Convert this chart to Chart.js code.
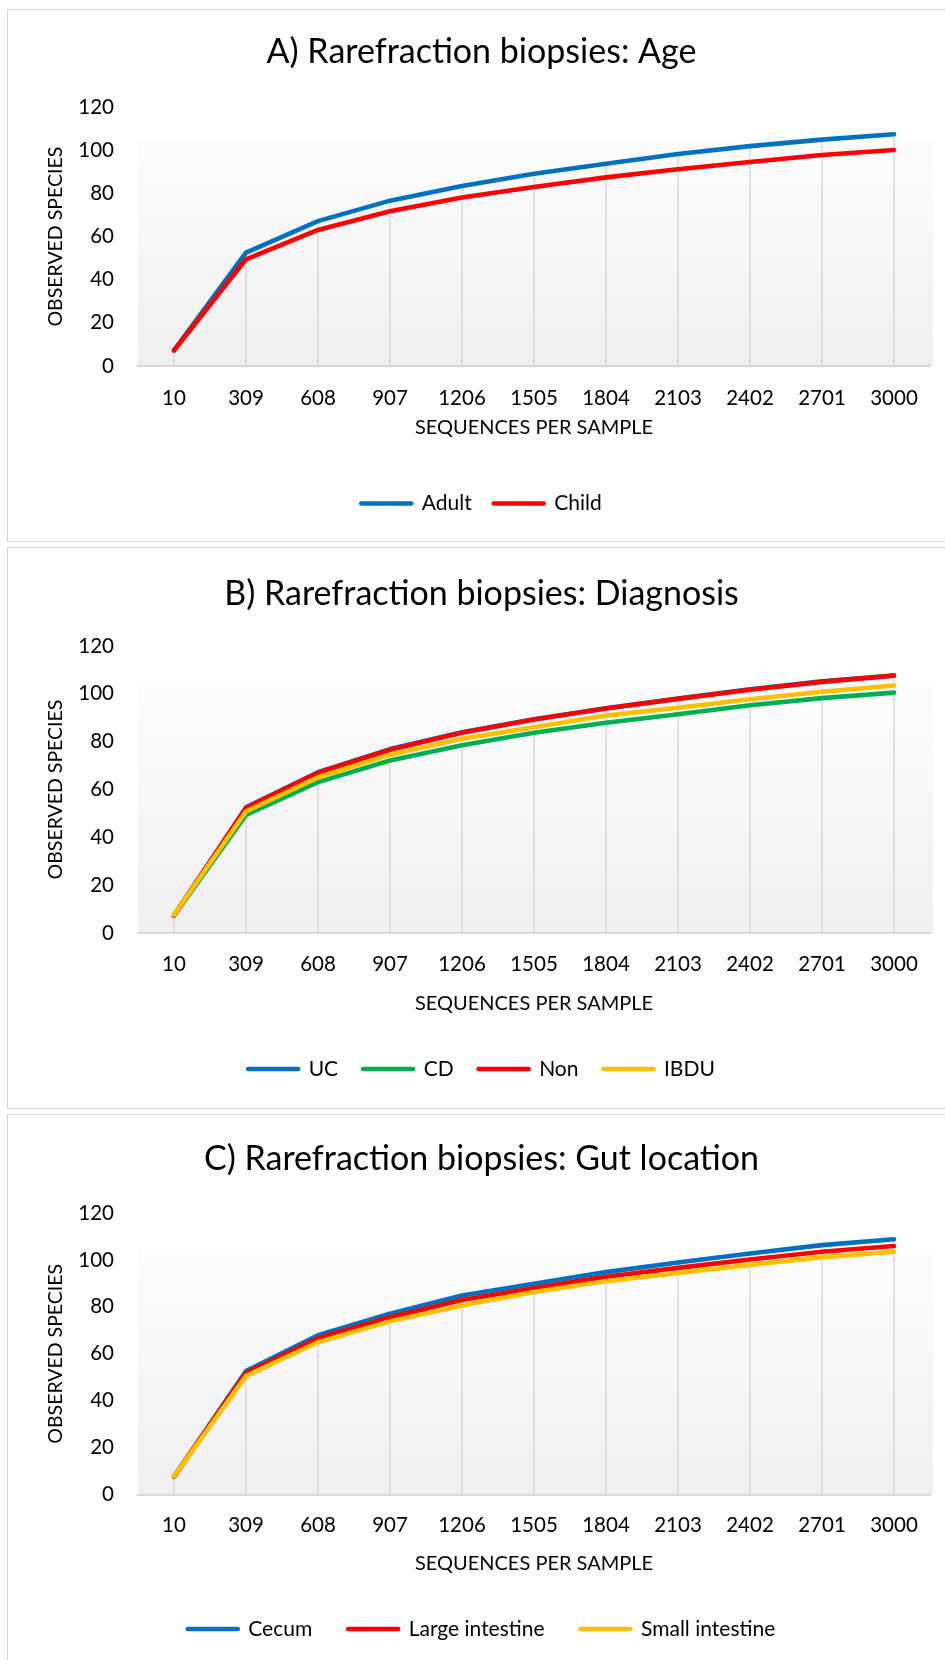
<!DOCTYPE html>
<html>
<head>
<meta charset="utf-8">
<title>Rarefraction biopsies</title>
<script src="https://cdn.jsdelivr.net/npm/chart.js@4.4.1/dist/chart.umd.min.js"></script>
<style>
    body { margin: 0; background: #fff; overflow: hidden; width: 945px; height: 1660px; position: relative; }
    .panel { position: absolute; left: 7px; width: 960px; border: 1px solid #d6d6d6; box-sizing: border-box; }
    canvas { position: absolute; left: 8px; }
</style>
</head>
<body>
<div class="panel" style="top:9px;height:533px"></div>
<div class="panel" style="top:547px;height:562px"></div>
<div class="panel" style="top:1114px;height:600px"></div>
<canvas id="chartA" width="947" height="531" style="top:10px"></canvas>
<canvas id="chartB" width="947" height="560" style="top:548px"></canvas>
<canvas id="chartC" width="947" height="545" style="top:1115px"></canvas>
<script>
//x軸 (sequences per sample)
var sampleDepths = ['10', '309', '608', '907', '1206', '1505', '1804', '2103', '2402', '2701', '3000'];

//y軸
var yMin = 0;
var yMax = 120;
var yStep = 20;

//A) Age
var ageNames = ['Adult', 'Child'];
var ageAdult = [7.2, 52.6, 67.2, 76.7, 83.5, 89.2, 93.8, 98.3, 102.0, 105.0, 107.5];
var ageChild = [7.2, 49.5, 63.1, 71.8, 78.2, 83.0, 87.5, 91.3, 94.6, 97.9, 100.2];

//B) Diagnosis
var diagNames = ['UC', 'CD', 'Non', 'IBDU'];
var diagUC = [7.4, 52.5, 67.2, 76.9, 83.9, 89.4, 94.0, 98.0, 101.9, 105.2, 107.7];
var diagCD = [7.2, 49.4, 63.1, 72.1, 78.5, 83.7, 87.9, 91.5, 95.2, 98.2, 100.5];
var diagNon = [7.3, 52.3, 67.0, 76.6, 83.7, 89.3, 93.9, 97.9, 101.7, 105.0, 107.6];
var diagIBDU = [7.6, 50.8, 65.1, 74.5, 81.2, 86.0, 90.9, 94.2, 97.7, 100.9, 103.5];

//C) Gut location
var gutNames = ['Cecum', 'Large intestine', 'Small intestine'];
var gutCecum = [7.5, 52.6, 67.9, 77.1, 84.8, 89.8, 94.8, 98.9, 102.7, 106.3, 108.8];
var gutLarge = [7.6, 51.8, 66.6, 75.6, 82.9, 88.0, 92.8, 96.6, 100.2, 103.5, 105.9];
var gutSmall = [7.7, 50.5, 64.9, 73.8, 80.6, 86.3, 90.9, 94.4, 97.9, 101.2, 103.5];

var BLUE = '#0070C0';
var RED = '#FF0000';
var GREEN = '#00B050';
var YELLOW = '#FFC000';

Chart.defaults.font.family = 'Lato, "Open Sans", sans-serif';
Chart.defaults.color = '#000';

//繪圖區背景 (漸層)
var plotFill = {
    id: 'plotFill',
    beforeDraw: function(chart) {
        var a = chart.chartArea;
        var c = chart.ctx;
        var top = a.top + (a.bottom - a.top) * 0.128;
        var g = c.createLinearGradient(0, top, 0, a.bottom);
        g.addColorStop(0, '#fdfdfd');
        g.addColorStop(1, '#efefef');
        c.save();
        c.fillStyle = g;
        c.fillRect(a.left, top, a.right - a.left + 3, a.bottom - top);
        c.restore();
    }
};

//垂直線 (drop lines)
var dropLines = {
    id: 'dropLines',
    beforeDatasetsDraw: function(chart) {
        var xs = chart.scales.x;
        var ys = chart.scales.y;
        var c = chart.ctx;
        c.save();
        c.strokeStyle = '#d9d9d9';
        c.lineWidth = 1.5;
        for (var i = 0; i < chart.data.labels.length; i++) {
            var top = 0;
            chart.data.datasets.forEach(function(ds) {
                if (ds.data[i] > top) top = ds.data[i];
            });
            var x = xs.getPixelForValue(i);
            c.beginPath();
            c.moveTo(x, ys.getPixelForValue(top));
            c.lineTo(x, ys.getPixelForValue(0));
            c.stroke();
        }
        c.restore();
    }
};

//繪製圖表
function drawPanel(id, titleText, names, series, colors, box) {
    var ctx = document.getElementById(id).getContext('2d');
    var datasets = [];
    for (var i = 0; i < series.length; i++) {
        datasets.push({
            label: names[i],
            data: series[i],
            borderColor: colors[i],
            backgroundColor: colors[i],
            borderWidth: 4.6,
            borderJoinStyle: 'round',
            borderCapStyle: 'round',
            pointRadius: 0,
            tension: 0,
            order: -i   //後面的線畫在上面
        });
    }

    return new Chart(ctx, {
        type: 'line',
        data: { labels: sampleDepths, datasets: datasets },
        plugins: [plotFill, dropLines],
        options: {
            responsive: false,
            animation: false,
            layout: { padding: { left: 25, right: 25, top: 0, bottom: box.padBottom } },
            plugins: {
                title: {
                    display: true,
                    text: titleText,
                    color: '#000',
                    font: { size: 34, weight: 'normal' },
                    padding: { top: box.titleTop, bottom: box.titleBottom }
                },
                legend: {
                    position: 'bottom',
                    labels: {
                        boxWidth: 50,
                        boxHeight: 0,
                        padding: box.legendGap,
                        color: '#000',
                        font: { size: 21 },
                        sort: function(a, b) { return a.datasetIndex - b.datasetIndex; }
                    }
                },
                tooltip: { enabled: false }
            },
            scales: {
                x: {
                    offset: true,
                    grid: { display: false, drawTicks: false },
                    border: { display: true, color: '#d9d9d9', width: 2 },
                    ticks: { color: '#000', font: { size: 20.5 }, padding: box.tickPad, maxRotation: 0, autoSkip: false },
                    title: {
                        display: true,
                        text: 'SEQUENCES PER SAMPLE',
                        color: '#000',
                        font: { size: 20 },
                        padding: { top: 0, bottom: box.xTitlePad }
                    },
                    afterFit: function(s) { s.height = box.xAxisH; }
                },
                y: {
                    min: yMin,
                    max: yMax,
                    ticks: { stepSize: yStep, color: '#000', font: { size: 20.5 }, padding: 24 },
                    grid: { display: false, drawTicks: false },
                    border: { display: false },
                    title: {
                        display: true,
                        text: 'OBSERVED SPECIES',
                        color: '#000',
                        font: { size: 19.5 },
                        padding: { top: 11.3, bottom: 4 }
                    },
                    afterFit: function(s) { s.width = 105; }
                }
            }
        }
    });
}

drawPanel('chartA', 'A) Rarefraction biopsies: Age', ageNames, [ageAdult, ageChild], [BLUE, RED],
    { titleTop: 21.9, titleBottom: 34.6, tickPad: 20.2, xAxisH: 105, xTitlePad: 31.5, legendGap: 22, padBottom: 17 });

drawPanel('chartB', 'B) Rarefraction biopsies: Diagnosis', diagNames, [diagUC, diagCD, diagNon, diagIBDU], [BLUE, GREEN, RED, YELLOW],
    { titleTop: 25.2, titleBottom: 32, tickPad: 18.7, xAxisH: 100.5, xTitlePad: 18.2, legendGap: 25, padBottom: 18.5 });

drawPanel('chartC', 'C) Rarefraction biopsies: Gut location', gutNames, [gutCecum, gutLarge, gutSmall], [BLUE, RED, YELLOW],
    { titleTop: 23.6, titleBottom: 33.6, tickPad: 18.2, xAxisH: 88, xTitlePad: 6.5, legendGap: 36, padBottom: 10.5 });
</script>
</body>
</html>
